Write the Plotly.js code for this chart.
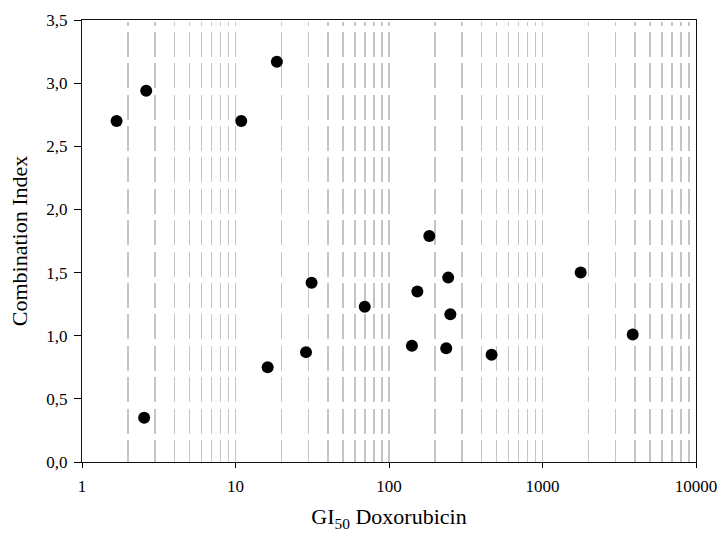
<!DOCTYPE html>
<html><head><meta charset="utf-8">
<script src="https://cdn.plot.ly/plotly-3.0.1.min.js"></script>
<style>html,body{margin:0;padding:0;background:#fff}#chart{width:719px;height:541px}</style>
</head><body><div id="chart"></div>
<script>
// Data
const gi50 = [1.68, 2.62, 2.54, 10.9, 18.6, 16.2, 28.8, 31.3, 69.5, 183, 153, 243, 251, 141, 236, 466, 1773, 3872];
const combinationIndex = [2.70, 2.94, 0.35, 2.70, 3.17, 0.75, 0.87, 1.42, 1.23, 1.79, 1.35, 1.46, 1.17, 0.92, 0.90, 0.85, 1.50, 1.01];
const xTickVals = [1, 10, 100, 1000, 10000];
const xTickText = ['1', '10', '100', '1000', '10000'];
const yTickVals = [0, 0.5, 1, 1.5, 2, 2.5, 3, 3.5];
const yTickText = ['0,0', '0,5', '1,0', '1,5', '2,0', '2,5', '3,0', '3,5'];
const xTitle = 'GI<sub>50</sub> Doxorubicin';
const yTitle = 'Combination Index';

// minor (2..9 per decade) grid positions derived from the major decades
const minorVals = [];
for (let i = 0; i < xTickVals.length - 1; i++) {
  for (let k = 2; k <= 9; k++) minorVals.push(k * xTickVals[i]);
}

// dash pattern for the vertical grid (drawn top to bottom)
const dashParts = ['0px', '1.7px', '4.3px', '5.7px'];
for (let i = 0; i < 13; i++) { dashParts.push('25px', '6.4px'); }
dashParts.push('30px', '10px');
const gridDash = dashParts.join(',');

const family = '"Liberation Serif", "Times New Roman", serif';
const tickFont = {family: family, size: 17, color: '#000'};
const titleFont = {family: family, size: 22, color: '#000'};

const trace = {
  x: gi50, y: combinationIndex, type: 'scatter', mode: 'markers',
  marker: {color: '#000', size: 12, line: {width: 0}},
  hoverinfo: 'skip'
};

const layout = {
  width: 719, height: 541,
  margin: {l: 82, r: 23, t: 20, b: 79},
  paper_bgcolor: '#fff', plot_bgcolor: '#fff',
  font: tickFont,
  showlegend: false,
  xaxis: {
    type: 'log', range: [0, 4], autorange: false,
    tickmode: 'array', tickvals: xTickVals, ticktext: xTickText,
    ticks: 'outside', ticklen: 5, tickwidth: 1, tickcolor: '#000',
    ticklabelstandoff: 4,
    showline: true, linecolor: '#111', linewidth: 1, mirror: true,
    showgrid: true, gridcolor: '#c4c4c4', gridwidth: 1.5, griddash: gridDash,
    minor: {tickmode: 'array', tickvals: minorVals, ticks: '', showgrid: true,
            gridcolor: '#c4c4c4', gridwidth: 1.5, griddash: gridDash},
    zeroline: false,
    tickfont: tickFont,
    title: {text: xTitle, font: titleFont, standoff: 13}
  },
  yaxis: {
    range: [0, 3.5], autorange: false,
    tickmode: 'array', tickvals: yTickVals, ticktext: yTickText,
    ticks: 'outside', ticklen: 7, tickwidth: 1, tickcolor: '#000',
    ticklabelstandoff: 3,
    showline: true, linecolor: '#111', linewidth: 1, mirror: true,
    showgrid: false, zeroline: false,
    tickfont: tickFont,
    title: {text: yTitle, font: titleFont, standoff: 12}
  }
};

Plotly.newPlot('chart', [trace], layout, {displayModeBar: false, staticPlot: true});
</script>
</body></html>
